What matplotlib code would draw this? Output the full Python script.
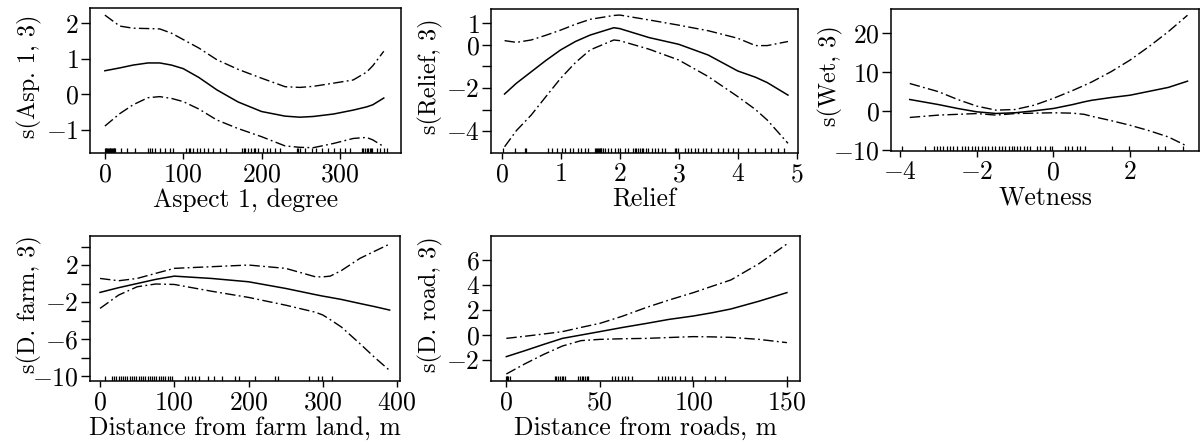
import matplotlib
matplotlib.use("Agg")
import matplotlib.pyplot as plt
from matplotlib.ticker import FixedLocator, FuncFormatter
import numpy as np

plt.rcParams['font.family'] = 'cmr10'
plt.rcParams['mathtext.fontset'] = 'cm'
plt.rcParams['axes.formatter.use_mathtext'] = True

# --- Aspect 1, degree ---
asp_x = [0, 19, 36, 55, 70, 85, 100, 120, 143, 170, 200, 230, 249, 266, 292, 317, 334, 342, 356]
asp_fit = [0.66, 0.74, 0.82, 0.88, 0.88, 0.82, 0.72, 0.47, 0.12, -0.22, -0.49, -0.62, -0.65, -0.63, -0.56, -0.45, -0.36, -0.30, -0.11]
asp_up = [2.23, 1.92, 1.86, 1.85, 1.84, 1.72, 1.54, 1.30, 0.97, 0.70, 0.45, 0.21, 0.19, 0.22, 0.31, 0.40, 0.62, 0.80, 1.21]
asp_lo = [-0.90, -0.55, -0.30, -0.10, -0.07, -0.12, -0.21, -0.42, -0.73, -0.97, -1.20, -1.46, -1.50, -1.51, -1.39, -1.25, -1.22, -1.29, -1.48]
asp_rug = [0, 1, 2, 3, 4, 5, 6, 7, 8, 9, 10, 11, 12, 13, 21, 28, 38, 55, 58, 60, 64, 70, 77, 83, 87,
           104, 107, 109, 113, 117, 121, 126, 132, 138, 147, 155, 175, 177, 179, 183, 187, 190, 192, 196,
           202, 207, 211, 217, 224, 245, 247, 249, 256, 264, 270, 277, 285, 292, 300, 307, 313,
           328, 330, 332, 334, 336, 338, 340, 341, 347, 351, 356, 360]

# --- Relief ---
rel_x = [0.05, 0.25, 0.5, 0.75, 1.0, 1.25, 1.5, 1.9, 2.0, 2.5, 3.0, 3.5, 4.0, 4.3, 4.5, 4.85]
rel_fit = [-2.28, -1.78, -1.25, -0.72, -0.23, 0.16, 0.46, 0.80, 0.76, 0.34, 0.03, -0.47, -1.21, -1.50, -1.75, -2.33]
rel_up = [0.20, 0.12, 0.23, 0.45, 0.69, 0.96, 1.19, 1.37, 1.39, 1.16, 0.92, 0.66, 0.31, -0.03, -0.03, 0.16]
rel_lo = [-4.73, -3.98, -3.26, -2.40, -1.55, -0.82, -0.23, 0.23, 0.20, -0.20, -0.70, -1.47, -2.40, -3.00, -3.49, -4.57]
rel_rug = [0.03, 0.22, 0.39, 0.42, 0.79, 0.85, 0.93, 1.02, 1.07, 1.16, 1.21, 1.30, 1.35, 1.41, 1.47,
           1.58, 1.60, 1.61, 1.63, 1.65, 1.66, 1.68, 1.69, 1.72, 1.75, 1.80, 1.86, 1.92, 1.97, 2.00,
           2.09, 2.14, 2.23, 2.26, 2.28, 2.31, 2.34, 2.37, 2.40, 2.45, 2.48, 2.54, 2.59, 2.65, 2.71,
           2.76, 2.93, 2.96, 2.99, 3.10, 3.16, 3.21, 3.27, 3.33, 3.41, 3.47, 3.55, 3.66, 3.75, 3.83,
           3.92, 4.00, 4.17, 4.29, 4.46, 4.57, 4.68, 4.79]

# --- Wetness ---
wet_x = [-3.75, -3.0, -2.5, -2.0, -1.5, -1.0, -0.5, 0.0, 0.5, 0.8, 1.0, 1.5, 2.0, 2.5, 3.0, 3.5]
wet_fit = [2.9, 1.6, 0.6, -0.26, -0.68, -0.5, 0.0, 0.6, 1.6, 2.3, 2.7, 3.4, 4.0, 5.0, 6.0, 7.6]
wet_up = [7.0, 4.9, 2.9, 1.2, 0.17, 0.34, 1.45, 3.2, 5.2, 6.5, 7.4, 10.0, 13.0, 16.5, 20.3, 24.5]
wet_lo = [-1.7, -1.1, -0.9, -0.7, -1.1, -0.7, -0.6, -0.5, -0.6, -0.9, -1.4, -2.5, -3.7, -5.1, -6.7, -9.1]
wet_rug = [-3.96, -3.35, -3.13, -3.04, -2.96, -2.87, -2.78, -2.70, -2.61, -2.52, -2.39, -2.30, -2.22,
           -2.13, -2.04, -1.96, -1.87, -1.78, -1.70, -1.61, -1.52, -1.43, -1.35, -1.26, -1.17, -1.09,
           -1.04, -0.96, -0.87, -0.78, -0.70, -0.61, -0.43, -0.35, -0.22, -0.09, -0.04, 0.30, 0.39,
           0.48, 0.61, 0.70, 0.83, 1.52, 1.96, 2.74, 2.91, 3.39]

# --- Distance from farm land ---
farm_x = [0, 25, 50, 75, 100, 150, 200, 250, 290, 300, 310, 325, 350, 370, 390]
farm_fit = [-0.96, -0.45, 0.0, 0.45, 0.80, 0.55, 0.19, -0.53, -1.20, -1.36, -1.50, -1.72, -2.16, -2.50, -2.87]
farm_up = [0.55, 0.30, 0.55, 1.10, 1.64, 1.82, 2.00, 1.64, 0.73, 0.72, 0.80, 1.40, 2.72, 3.50, 4.27]
farm_lo = [-2.69, -1.25, -0.35, -0.05, -0.10, -0.83, -1.50, -2.34, -3.10, -3.40, -3.90, -4.70, -6.50, -8.00, -9.40]
farm_rug = [7, 16, 19, 22, 25, 28, 31, 34, 37, 40, 43, 46, 49, 52, 55, 58, 61, 64, 67, 70, 73, 76,
            79, 82, 85, 88, 91, 94, 97, 115, 119, 124, 128, 133, 146, 153, 164, 182, 187, 209, 236,
            240, 281, 294, 299, 312]

# --- Distance from roads ---
road_x = [0, 10, 20, 30, 40, 50, 62, 75, 87, 100, 110, 120, 135, 150]
road_fit = [-1.73, -1.25, -0.75, -0.27, 0.0, 0.27, 0.60, 0.93, 1.25, 1.52, 1.78, 2.08, 2.70, 3.39]
road_up = [-0.27, -0.10, 0.08, 0.27, 0.61, 0.93, 1.50, 2.21, 2.80, 3.39, 3.90, 4.40, 5.70, 7.28]
road_lo = [-3.12, -2.30, -1.55, -0.88, -0.45, -0.35, -0.30, -0.27, -0.20, -0.13, -0.15, -0.19, -0.35, -0.61]
road_rug = [0, 0.3, 0.6, 1, 2, 25.9, 26.8, 27.7, 28.6, 29.5, 30.4, 31.3, 38.4, 39.3, 40.2, 41.1, 42.0,
            42.9, 43.8, 56.3, 58.0, 59.8, 61.6, 63.4, 65.2, 67.0, 81.3, 83.0, 84.8, 86.6, 88.4, 90.2,
            92.9, 95.5, 99.1, 106.3, 111.6, 117.0, 150.0]

panels = [
    # x, fit, up, lo, rug, xlabel, ylabel, xlim, ylim, xticks, yticks, labelled yticks, box px (l, t, r, b)
    (asp_x, asp_fit, asp_up, asp_lo, asp_rug, "Aspect 1, degree", "s(Asp. 1, 3)",
     (-19, 378), (-1.66, 2.43), [0, 100, 200, 300], [-1, 0, 1, 2], [-1, 0, 1, 2], (90, 8, 401, 153)),
    (rel_x, rel_fit, rel_up, rel_lo, rel_rug, "Relief", "s(Relief, 3)",
     (-0.18, 5.02), (-5.02, 1.67), [0, 1, 2, 3, 4, 5], [-4, -3, -2, -1, 0, 1], [-4, -2, 0, 1], (491, 9, 798, 153)),
    (wet_x, wet_fit, wet_up, wet_lo, wet_rug, "Wetness", "s(Wet, 3)",
     (-4.24, 3.8), (-10.3, 26.1), [-4, -2, 0, 2], [-10, 0, 10, 20], [-10, 0, 10, 20], (891, 9, 1199, 151)),
    (farm_x, farm_fit, farm_up, farm_lo, farm_rug, "Distance from farm land, m", "s(D. farm, 3)",
     (-13.5, 404), (-10.54, 5.14), [0, 100, 200, 300, 400], list(range(-10, 5, 2)), [-10, -6, -2, 2], (90, 236, 400, 381)),
    (road_x, road_fit, road_up, road_lo, road_rug, "Distance from roads, m", "s(D. road, 3)",
     (-8.2, 157), (-3.68, 7.92), [0, 50, 100, 150], [-2, 0, 2, 4, 6], [-2, 0, 2, 4, 6], (491, 236, 800, 381)),
]

W, H = 1204, 443
FS = 18.5
fig = plt.figure(figsize=(W / 100, H / 100), dpi=100)
dd = (7.5, 2.4, 1.3, 2.4)

for (x, fit, up, lo, rug, xl, yl, xlim, ylim, xt, yt, ylab, box) in panels:
    l, t, r, b = box
    ax = fig.add_axes([l / W, 1 - b / H, (r - l) / W, (b - t) / H])
    ax.plot(x, fit, color='k', lw=1.1)
    ax.plot(x, up, color='k', lw=1.0, dashes=dd)
    ax.plot(x, lo, color='k', lw=1.0, dashes=dd)
    ax.vlines(rug, 0, 0.035, transform=ax.get_xaxis_transform(), color='k', lw=0.9)
    ax.set_xlim(*xlim)
    ax.set_ylim(*ylim)
    ax.xaxis.set_major_locator(FixedLocator(xt))
    ax.yaxis.set_major_locator(FixedLocator(yt))
    ax.xaxis.set_major_formatter(FuncFormatter(lambda v, p: '$%g$' % v))
    ax.yaxis.set_major_formatter(FuncFormatter(lambda v, p, ok=ylab: ('$%g$' % v) if v in ok else ''))
    ax.tick_params(axis='x', direction='out', length=4.5, width=1.0, pad=2.5, labelsize=FS)
    ax.tick_params(axis='y', direction='out', length=6.5, width=1.0, pad=1.5, labelsize=FS)
    for s in ax.spines.values():
        s.set_linewidth(1.1)
    ax.set_xlabel(xl, fontsize=FS, labelpad=1)
    ax.set_ylabel(yl, fontsize=17.5, va='center')
    ax.yaxis.set_label_coords(-61 / (r - l), 0.53)

fig.savefig("out.png", dpi=100)
